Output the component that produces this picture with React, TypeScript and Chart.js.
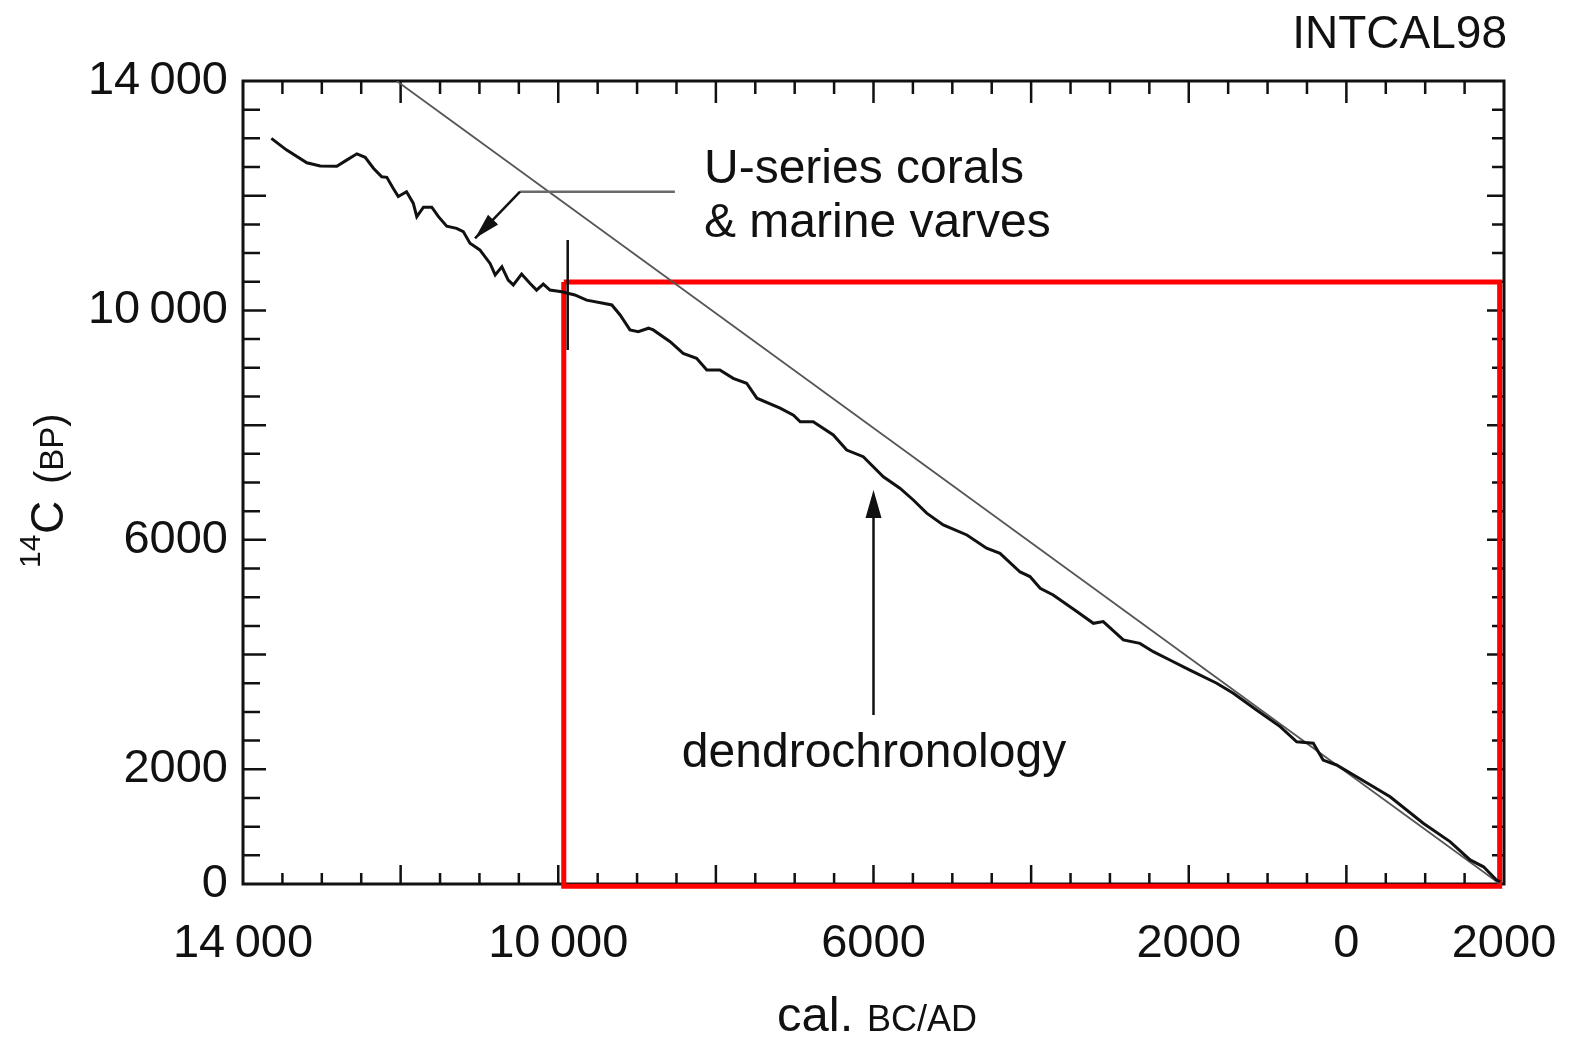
import React, { useEffect, useRef } from "react";
import { Chart, registerables } from "chart.js";

Chart.register(...registerables);

// ---- data ----
const calYears = [
  -13640, -13450, -13190, -13020, -12810, -12685, -12555, -12450, -12345, -12240,
  -12175, -12095, -12030, -11925, -11840, -11795, -11710, -11605, -11520, -11415,
  -11290, -11205, -11120, -10995, -10865, -10800, -10715, -10635, -10570, -10465,
  -10360, -10275, -10190, -10105, -9955, -9790, -9640, -9430, -9320, -9215,
  -9090, -8985, -8855, -8795, -8580, -8415, -8245, -8115, -7950, -7780,
  -7610, -7480, -7185, -7015, -6930, -6765, -6510, -6340, -6130, -5875,
  -5665, -5495, -5325, -5115, -4815, -4565, -4395, -4140, -4015, -3885,
  -3720, -3420, -3210, -3085, -2830, -2620, -2450, -2240, -1985, -1645,
  -1435, -1140, -840, -630, -420, -295, -125, 130, 555, 975,
  1315, 1570, 1740, 1905, 1950,
];
const c14Ages = [
  13000, 12800, 12575, 12520, 12515, 12620, 12730, 12670, 12480, 12330,
  12320, 12130, 11985, 12070, 11870, 11635, 11800, 11800, 11635, 11470,
  11430, 11375, 11170, 11055, 10820, 10620, 10760, 10530, 10445, 10635,
  10475, 10355, 10460, 10355, 10325, 10270, 10180, 10125, 10095, 9920,
  9660, 9630, 9690, 9660, 9455, 9250, 9165, 8960, 8960, 8815,
  8730, 8470, 8295, 8175, 8060, 8060, 7830, 7565, 7450, 7100,
  6900, 6695, 6465, 6260, 6085, 5855, 5765, 5440, 5360, 5155,
  5040, 4750, 4545, 4575, 4255, 4195, 4050, 3905, 3730, 3500,
  3325, 3035, 2745, 2480, 2455, 2160, 2075, 1870, 1520, 1060,
  740, 420, 300, 70, 40,
];

// 1:1 line (14C age = calendar age BP)
const equalityX = [-12050, 1950];
const equalityY = [14000, 0];

// highlighted dendrochronology window
const boxX = [-9930, 1945, 1945, -9930, -9930];
const boxY = [10495, 10495, -40, -40, 10495];

// boundary mark between the two data sources
const separatorX = [-9880, -9880];
const separatorY = [11230, 9310];

// annotation leaders (data coordinates)
const coralLeaderX = [-8520, -10485, -11056];
const coralLeaderY = [12070, 12070, 11257];
const dendroArrowX = [-6000, -6000];
const dendroArrowY = [2946, 6869];

const xMin = -14000;
const xMax = 2000;
const yMin = 0;
const yMax = 14000;
const xTickValues = [-14000, -10000, -6000, -2000, 0, 2000];
const xTickLabels = ["14\u2009000", "10\u2009000", "6000", "2000", "0", "2000"];
const yTickValues = [0, 2000, 6000, 10000, 14000];
const yTickLabels = ["0", "2000", "6000", "10\u2009000", "14\u2009000"];
const minorStep = 500;
const majorStep = 2000;

const coralText = ["U-series corals", "& marine varves"];
const dendroText = "dendrochronology";
const cornerText = "INTCAL98";

const FONT = "'Liberation Sans', Arial, Helvetica, sans-serif";

const pts = (xs: number[], ys: number[]) => xs.map((x, i) => ({ x, y: ys[i] }));

function drawArrowHead(ctx: CanvasRenderingContext2D, x1: number, y1: number, x2: number, y2: number, len: number, half: number) {
  const ang = Math.atan2(y2 - y1, x2 - x1);
  const bx = x2 - len * Math.cos(ang);
  const by = y2 - len * Math.sin(ang);
  ctx.beginPath();
  ctx.moveTo(x2, y2);
  ctx.lineTo(bx + half * Math.sin(ang), by - half * Math.cos(ang));
  ctx.lineTo(bx - half * Math.sin(ang), by + half * Math.cos(ang));
  ctx.closePath();
  ctx.fill();
}

const frameTicksPlugin = {
  id: "frameTicks",
  beforeDatasetsDraw(chart: any) {
    const { ctx, chartArea: a, scales } = chart;
    const x = scales.x;
    const y = scales.y;
    ctx.save();
    ctx.strokeStyle = "#111";
    ctx.lineWidth = 3;
    ctx.strokeRect(a.left, a.top, a.right - a.left, a.bottom - a.top);
    ctx.lineWidth = 2.5;
    ctx.beginPath();
    for (let v = xMin + minorStep; v < xMax; v += minorStep) {
      const p = x.getPixelForValue(v);
      const major = v % majorStep === 0;
      const lb = major ? 19 : 11;
      const lt = major ? 22 : 13;
      ctx.moveTo(p, a.bottom);
      ctx.lineTo(p, a.bottom - lb);
      ctx.moveTo(p, a.top);
      ctx.lineTo(p, a.top + lt);
    }
    for (let v = yMin + minorStep; v < yMax; v += minorStep) {
      const p = y.getPixelForValue(v);
      const major = v % majorStep === 0;
      const ll = major ? 23 : 17;
      const lr = major ? 17 : 12;
      ctx.moveTo(a.left, p);
      ctx.lineTo(a.left + ll, p);
      ctx.moveTo(a.right, p);
      ctx.lineTo(a.right - lr, p);
    }
    ctx.stroke();
    ctx.restore();
  },
};

const annotationPlugin = {
  id: "annotations",
  afterDatasetsDraw(chart: any) {
    const { ctx, scales } = chart;
    const x = scales.x;
    const y = scales.y;
    ctx.save();

    // coral leader: grey horizontal then black arrow
    const cx = coralLeaderX.map((v) => x.getPixelForValue(v));
    const cy = coralLeaderY.map((v) => y.getPixelForValue(v));
    ctx.lineCap = "butt";
    ctx.strokeStyle = "#6a6a6a";
    ctx.lineWidth = 2.5;
    ctx.beginPath();
    ctx.moveTo(cx[0], cy[0]);
    ctx.lineTo(cx[1], cy[1]);
    ctx.stroke();
    ctx.strokeStyle = "#111";
    ctx.fillStyle = "#111";
    ctx.lineWidth = 2.5;
    ctx.beginPath();
    ctx.moveTo(cx[1], cy[1]);
    ctx.lineTo(cx[2], cy[2]);
    ctx.stroke();
    drawArrowHead(ctx, cx[1], cy[1], cx[2], cy[2], 26, 7);

    // dendro arrow
    const dx = dendroArrowX.map((v) => x.getPixelForValue(v));
    const dy = dendroArrowY.map((v) => y.getPixelForValue(v));
    ctx.beginPath();
    ctx.moveTo(dx[0], dy[0]);
    ctx.lineTo(dx[1], dy[1] + 10);
    ctx.stroke();
    drawArrowHead(ctx, dx[0], dy[0], dx[1], dy[1], 28, 8);

    // annotation text
    ctx.fillStyle = "#111";
    ctx.textBaseline = "alphabetic";
    ctx.font = `48px ${FONT}`;
    ctx.textAlign = "left";
    ctx.fillText(coralText[0], 704, 183);
    ctx.fillText(coralText[1], 704, 237);
    ctx.textAlign = "center";
    ctx.fillText(dendroText, 874, 767);

    // corner label
    ctx.font = `46px ${FONT}`;
    ctx.textAlign = "right";
    ctx.fillText(cornerText, 1507, 48);

    // x-axis title: "cal. BC/AD"
    ctx.textAlign = "left";
    ctx.font = `49px ${FONT}`;
    ctx.fillText("cal.", 777, 1031);
    ctx.font = `36px ${FONT}`;
    ctx.fillText("BC/AD", 867, 1031);

    // y-axis title: "14C (BP)" rotated
    ctx.translate(63, 568);
    ctx.rotate(-Math.PI / 2);
    ctx.font = `30px ${FONT}`;
    ctx.fillText("14", 0, -23);
    ctx.font = `46px ${FONT}`;
    ctx.fillText("C", 34, 0);
    ctx.font = `40px ${FONT}`;
    ctx.fillText("(", 84, 0);
    const pw = ctx.measureText("(").width;
    ctx.font = `33px ${FONT}`;
    ctx.fillText("BP", 84 + pw, 0);
    const bw = ctx.measureText("BP").width;
    ctx.font = `40px ${FONT}`;
    ctx.fillText(")", 84 + pw + bw, 0);

    ctx.restore();
  },
};

export default function App() {
  const canvasRef = useRef<HTMLCanvasElement | null>(null);

  useEffect(() => {
    const canvas = canvasRef.current;
    if (!canvas) return;
    const chart = new Chart(canvas, {
      type: "scatter",
      data: {
        datasets: [
          {
            label: "separator",
            data: pts(separatorX, separatorY),
            showLine: true,
            borderColor: "#111",
            borderWidth: 2.5,
            pointRadius: 0,
            order: 0,
            clip: false,
          },
          {
            label: "INTCAL98",
            data: pts(calYears, c14Ages),
            showLine: true,
            borderColor: "#111",
            borderWidth: 3,
            pointRadius: 0,
            tension: 0,
            order: 1,
          },
          {
            label: "1:1",
            data: pts(equalityX, equalityY),
            showLine: true,
            borderColor: "#555",
            borderWidth: 1.8,
            pointRadius: 0,
            order: 2,
          },
          {
            label: "box",
            data: pts(boxX, boxY),
            showLine: true,
            borderColor: "#ff0000",
            borderWidth: 5,
            borderJoinStyle: "miter",
            pointRadius: 0,
            order: 3,
            clip: false,
          },
        ],
      },
      options: {
        animation: false,
        responsive: false,
        events: [],
        layout: { padding: { top: 81, right: 71, left: 0, bottom: 0 } },
        plugins: { legend: { display: false }, tooltip: { enabled: false } },
        scales: {
          x: {
            type: "linear",
            min: xMin,
            max: xMax,
            grid: { display: false, drawTicks: false },
            border: { display: false },
            afterFit: (s: any) => {
              s.height = 154;
              s.paddingLeft = 0;
              s.paddingRight = 0;
            },
            afterBuildTicks: (s: any) => {
              s.ticks = xTickValues.map((value) => ({ value }));
            },
            ticks: {
              autoSkip: false,
              maxRotation: 0,
              padding: 32,
              color: "#111",
              font: { family: FONT, size: 47 },
              callback: (v: any) => xTickLabels[xTickValues.indexOf(Number(v))],
            },
          },
          y: {
            type: "linear",
            min: yMin,
            max: yMax,
            grid: { display: false, drawTicks: false },
            border: { display: false },
            afterFit: (s: any) => {
              s.width = 243;
              s.paddingTop = 0;
              s.paddingBottom = 0;
            },
            afterBuildTicks: (s: any) => {
              s.ticks = yTickValues.map((value) => ({ value }));
            },
            ticks: {
              padding: 15,
              color: "#111",
              font: { family: FONT, size: 47 },
              callback: (v: any) => yTickLabels[yTickValues.indexOf(Number(v))],
            },
          },
        },
      },
      plugins: [frameTicksPlugin, annotationPlugin],
    } as any);
    return () => chart.destroy();
  }, []);

  return (
    <div style={{ position: "absolute", left: 0, top: 0, width: 1575, height: 1038, background: "#fff" }}>
      <canvas ref={canvasRef} width={1575} height={1038} />
    </div>
  );
}
